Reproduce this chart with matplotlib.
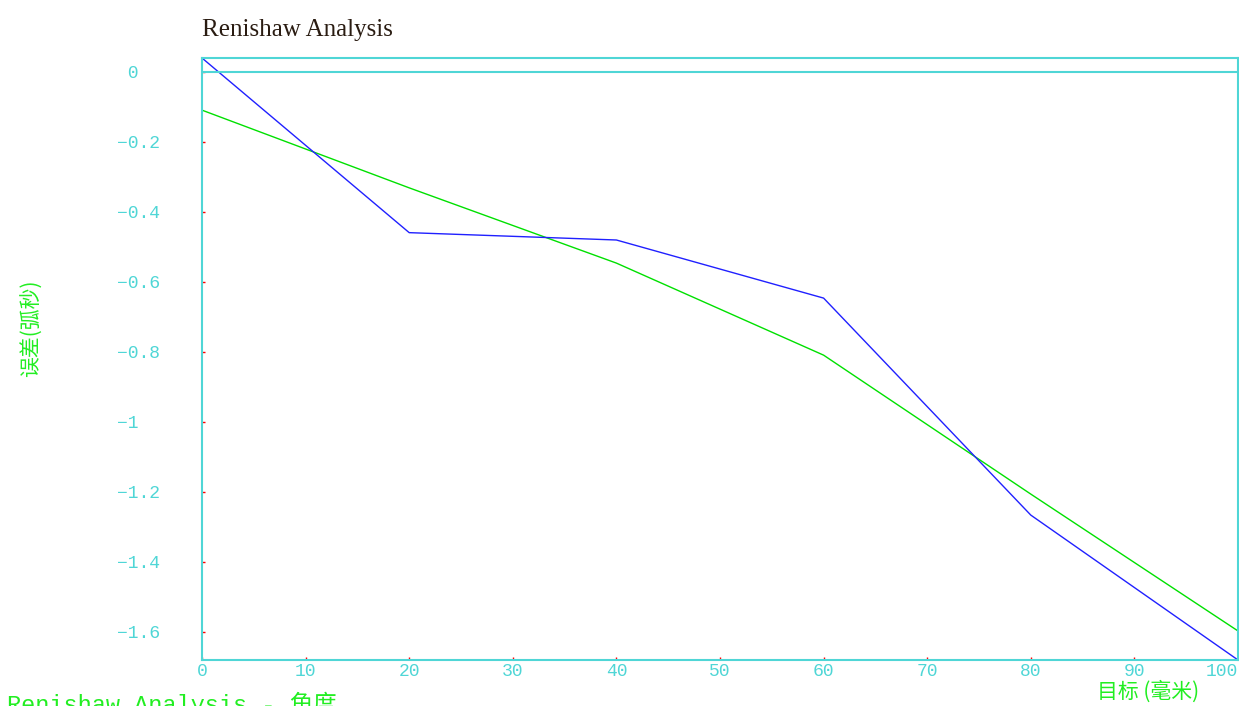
import matplotlib
matplotlib.use("Agg")
import matplotlib.pyplot as plt
from matplotlib.transforms import ScaledTranslation

# data
target_mm = [0, 20, 40, 60, 80, 100]
error_measured = [0.04, -0.459, -0.48, -0.646, -1.266, -1.68]
error_fit = [-0.109, -0.331, -0.546, -0.809, -1.206, -1.597]

x_ticks = [0, 10, 20, 30, 40, 50, 60, 70, 80, 90, 100]
y_ticks = [0, -0.2, -0.4, -0.6, -0.8, -1, -1.2, -1.4, -1.6]

cyan = '#4fd6d6'
green = '#22ee22'
cjk = ['Noto Sans CJK SC', 'DejaVu Sans']
mono = ['Liberation Mono', 'DejaVu Sans Mono']

fig = plt.figure(figsize=(12.39, 7.06), dpi=100)
W, H = 1239, 706
ax = fig.add_axes([202 / W, 1 - 660 / H, 1036 / W, 602 / H])

ax.plot(target_mm, error_fit, color='#00e000', lw=1)
ax.plot(target_mm, error_measured, color='#2020ff', lw=1)
ax.axhline(0, color=cyan, lw=1.5)

ax.set_xlim(0, 100)
ax.set_ylim(-1.68, 0.04)

for s in ax.spines.values():
    s.set_color(cyan)
    s.set_linewidth(1.5)

ax.set_xticks(x_ticks)
xl = ax.set_xticklabels([str(v) for v in x_ticks], family=mono, fontsize=13, color=cyan)
# last label sits inside the frame like in the reference
xl[-1].set_horizontalalignment('right')
xl[-1].set_transform(xl[-1].get_transform() + ScaledTranslation(-3 / 100, 0, fig.dpi_scale_trans))

ax.set_yticks(y_ticks)
ylabels = []
for v in y_ticks:
    if v == 0:
        ylabels.append(' 0')
    else:
        ylabels.append(('%g' % v).replace('-', '\u2212'))
yl = ax.set_yticklabels(ylabels, family=mono, fontsize=13, color=cyan, ha='left')
for t in yl:
    t.set_transform(t.get_transform() + ScaledTranslation(0, 2 / 100, fig.dpi_scale_trans))
ax.tick_params(axis='both', direction='in', length=2.5, width=1, colors='red',
               labelcolor=cyan)
ax.tick_params(axis='y', pad=61)
ax.tick_params(axis='x', pad=2)

fig.text(202 / W, 1 - 30 / H, 'Renishaw Analysis', family=['Liberation Serif', 'DejaVu Serif'],
         fontsize=18, color='#2a1c12', va='center', ha='left')
fig.text(32 / W, 1 - 328 / H, '误差(弧秒)', family=cjk, fontsize=15, color=green,
         rotation=90, va='center', ha='center')
fig.text(1148 / W, 1 - 692 / H, '目标 (毫米)', family=cjk, fontsize=15, color=green,
         va='center', ha='center')
fig.text(7 / W, 1 - 692 / H, 'Renishaw Analysis - 角度', family=mono + cjk[:1], fontsize=17,
         color=green, va='top', ha='left')

fig.savefig('out.png', dpi=100)
